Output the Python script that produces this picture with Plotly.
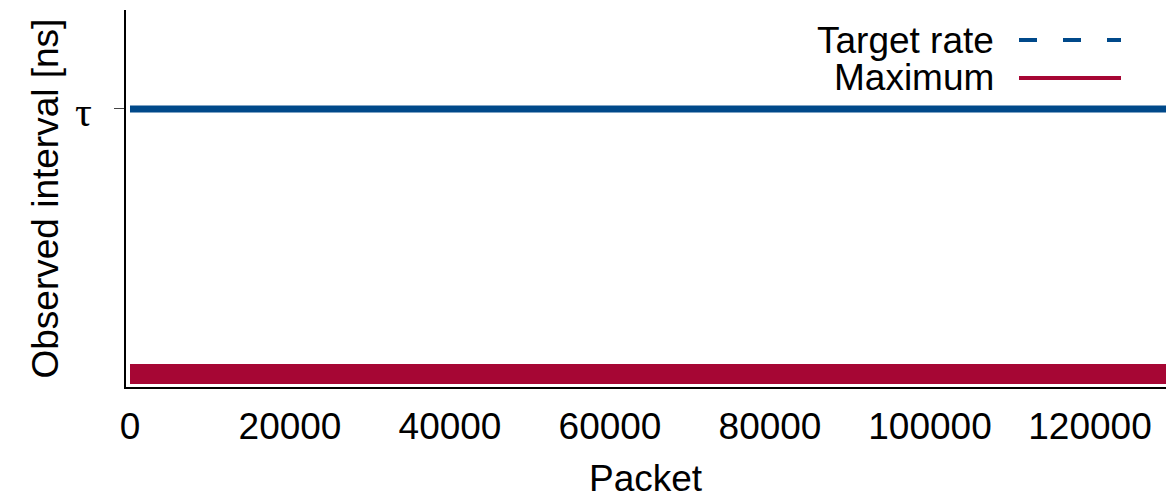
import plotly.graph_objects as go

# ---- data ----
TAU = 100  # nominal target interval (units arbitrary; axis only labels tau)
packets = [0, 4000, 9600, 14000, 20000, 26000, 33100, 38000, 44000, 50000,
           56000, 62000, 68000, 74000, 80000, 86000, 92000, 98000, 104000,
           110000, 115250, 120000, 125000, 129500]
maximum = [4.7, 4.7, 5.5, 4.7, 4.7, 4.7, 5.5, 4.7, 4.7, 4.7,
           4.7, 4.7, 4.7, 4.7, 4.7, 4.7, 4.7, 4.7, 4.7,
           4.7, 5.4, 4.7, 4.7, 4.7]
target = [TAU for _ in packets]

x_ticks = [0, 20000, 40000, 60000, 80000, 100000, 120000]
x_ticktext = ["0", "20000", "40000", "60000", "80000", "100000", "120000"]
y_ticks = [TAU]
y_ticktext = ["τ"]

BLUE = "#00498a"
RED = "#a60634"
FONT = "Liberation Sans, Arial, Helvetica, sans-serif"

fig = go.Figure()
fig.add_trace(go.Scatter(x=packets, y=target, mode="lines",
                         line=dict(color=BLUE, width=7), showlegend=False))
fig.add_trace(go.Scatter(x=packets, y=maximum, mode="lines",
                         line=dict(color=RED, width=20), showlegend=False))

W, H = 1166, 498
L, R, T, B = 126, 0, 10, 111
pw = W - L - R
ph = H - T - B

def px(x):
    return (x - L) / pw

def py(y):
    return (H - B - y) / ph

# y tick label (serif tau), placed at the tick value
for v, t in zip(y_ticks, y_ticktext):
    fig.add_annotation(x=px(83), y=v, xref="paper", yref="y", text=t,
                       showarrow=False, xanchor="center", yanchor="middle",
                       yshift=-3,
                       font=dict(family="Liberation Serif, Times New Roman, serif",
                                 size=42, color="black"))

# manual legend (text right-aligned, sample to the right)
fig.add_annotation(x=px(996), y=py(40), xref="paper", yref="paper",
                   text="Target rate", showarrow=False, xanchor="right",
                   yanchor="middle", font=dict(family=FONT, size=37, color="black"))
fig.add_annotation(x=px(996), y=py(77), xref="paper", yref="paper",
                   text="Maximum", showarrow=False, xanchor="right",
                   yanchor="middle", font=dict(family=FONT, size=37, color="black"))
fig.add_shape(type="line", xref="paper", yref="paper",
              x0=px(1019), x1=px(1121), y0=py(40), y1=py(40),
              line=dict(color=BLUE, width=4, dash="18px,26px"))
fig.add_shape(type="line", xref="paper", yref="paper",
              x0=px(1019), x1=px(1121), y0=py(78), y1=py(78),
              line=dict(color=RED, width=4))

# axis titles
fig.add_annotation(x=px(45), y=0.5, xref="paper", yref="paper",
                   text="Observed interval [ns]", showarrow=False, textangle=-90,
                   xanchor="center", yanchor="middle",
                   font=dict(family=FONT, size=37, color="black"))
fig.add_annotation(x=px(646), y=py(478), xref="paper", yref="paper",
                   text="Packet", showarrow=False, xanchor="center", yanchor="middle",
                   font=dict(family=FONT, size=37, color="black"))

fig.update_layout(
    width=W, height=H,
    margin=dict(l=L, r=R, t=T, b=B),
    paper_bgcolor="white", plot_bgcolor="white",
    showlegend=False,
    xaxis=dict(range=[-500, 129500], tickvals=x_ticks, ticktext=x_ticktext,
               ticks="", showgrid=False, zeroline=False,
               showline=True, linecolor="black", linewidth=2,
               tickfont=dict(family=FONT, size=37, color="black"),
               ticklabelstandoff=6),
    yaxis=dict(range=[0, 135.6], tickvals=y_ticks, showticklabels=False,
               ticks="outside", ticklen=10, tickcolor="#444", tickwidth=1,
               showgrid=False, zeroline=False,
               showline=True, linecolor="black", linewidth=2),
)

fig.write_html("out.html", config={"displayModeBar": False},
               post_script="document.body.style.margin='0';document.body.style.overflow='hidden';")
